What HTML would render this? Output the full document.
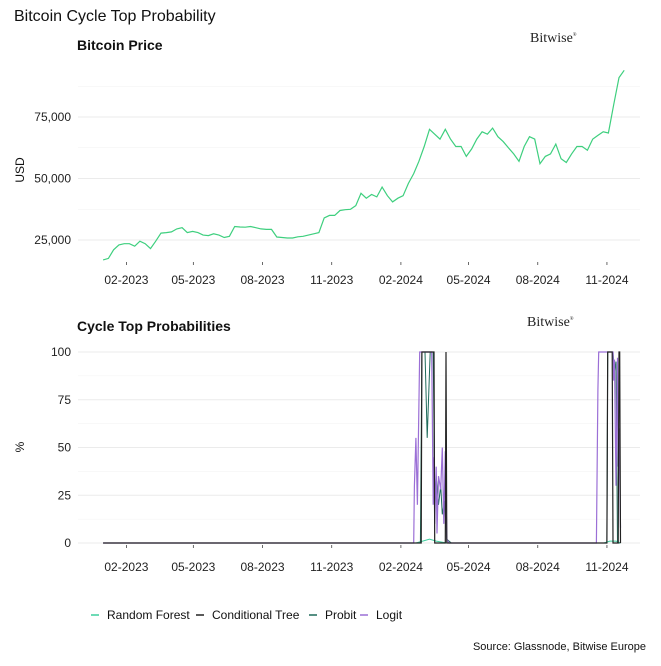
<!DOCTYPE html>
<html><head><meta charset="utf-8">
<style>
body{margin:0;background:#fff;}
svg text{font-family:"Liberation Sans",Arial,sans-serif;}
</style></head>
<body>
<svg id="chart" width="661" height="661" viewBox="0 0 661 661" xmlns="http://www.w3.org/2000/svg">
<rect width="661" height="661" fill="#fff"/>
<text x="14" y="21" font-size="16" fill="#111">Bitcoin Cycle Top Probability</text>
<text x="77" y="50" font-size="14" font-weight="bold" fill="#111">Bitcoin Price</text>
<text x="530" y="42" font-size="14" style="font-family:'Liberation Serif',serif" fill="#222">Bitwise<tspan font-size="5" dy="-6">®</tspan></text>
<text x="77" y="331" font-size="14" font-weight="bold" fill="#111">Cycle Top Probabilities</text>
<text x="527" y="326" font-size="14" style="font-family:'Liberation Serif',serif" fill="#222">Bitwise<tspan font-size="5" dy="-6">®</tspan></text>
<text transform="translate(24,170) rotate(-90)" text-anchor="middle" font-size="12" fill="#111">USD</text>
<text transform="translate(24,447) rotate(-90)" text-anchor="middle" font-size="12" fill="#111">%</text>
<g id="grid"></g>
<g id="marks"></g>
<g id="legend"></g>
<text x="646" y="650" text-anchor="end" font-size="11" fill="#111">Source: Glassnode, Bitwise Europe</text>
</svg>
<script>
// Weekly BTC price (USD) starting 2023-01-01
const priceValues=[16900,17500,21000,23000,23500,23500,22500,24500,23500,21500,24500,27800,28000,28300,29500,30000,28000,28500,28000,27000,26800,27500,27000,26000,26500,30500,30300,30200,30500,30000,29500,29300,29300,26200,26000,25800,25800,26300,26500,27000,27500,28000,34000,35000,35000,37000,37300,37500,39000,44000,42000,43500,42500,46500,43000,40500,42000,43000,48000,52000,57000,63000,70000,68000,66000,70000,66000,63000,63000,59000,62000,66000,69000,68000,70500,67000,65000,62500,60000,57000,63000,67000,66000,56000,59000,60000,64000,58000,56500,60000,63000,63000,61500,66000,67500,69000,68500,80000,91000,94000];
const priceStartDay=0;
const priceStepDays=7;
// Probability breakpoints (day offset from 2023-01-01, percent)
const treeDays=[0,423,424,440,441,455,456,457,670,671,677,678,685,686,687,688];
const treeVals=[0,0,100,100,0,0,100,0,0,100,100,0,0,100,100,0];
const logitDays=[0,413,414,416,418,421,437,439,440,441,443,444,446,449,451,453,455,457,460,656,658,659,678,679,680,682,684,685,686,688];
const logitVals=[0,0,30,55,20,100,100,20,45,10,40,5,35,28,50,10,48,2,0,0,80,100,100,85,96,30,97,40,60,8];
const probitDays=[0,422,424,428,431,435,439,441,443,446,449,451,454,457,463,670,671,678,680,682,684,688];
const probitVals=[0,0,100,100,55,100,100,25,35,20,30,15,22,2,0,0,100,100,90,95,0,0];
const rfDays=[0,416,425,434,443,457,666,674,682,688];
const rfVals=[0,0,1,2,1,0,0,1,1,0];
const xTickLabels=["02-2023","05-2023","08-2023","11-2023","02-2024","05-2024","08-2024","11-2024"];
const xTickDays=[31,120,212,304,396,486,578,670];
const priceTicks=[25000,50000,75000];
const priceTickLabels=["25,000","50,000","75,000"];
const probTicks=[0,25,50,75,100];
const legendLabels=["Random Forest","Conditional Tree","Probit","Logit"];

const NS="http://www.w3.org/2000/svg";
const xs=d=>103.1+d*0.752;
const yPrice=v=>240-(v-25000)*61.5/25000;
const yProb=v=>543-v*1.91;
const L=78,R=640;
function mk(tag,attrs,parent){const e=document.createElementNS(NS,tag);for(const k in attrs)e.setAttribute(k,attrs[k]);parent.appendChild(e);return e;}
const grid=document.getElementById('grid'),marks=document.getElementById('marks'),legend=document.getElementById('legend');

[12500,37500,62500,87500].forEach(v=>{const y=yPrice(v);if(y>60&&y<268){const g=mk('line',{x1:L,x2:R,y1:y,y2:y,stroke:'#f2f2f2','stroke-width':0.6},grid);}});
priceTicks.forEach((v,i)=>{const y=yPrice(v);const g=mk('line',{x1:L,x2:R,y1:y,y2:y,stroke:'#ebebeb','stroke-width':1},grid);
const t=mk('text',{x:71,y:y+4,'text-anchor':'end','font-size':12,fill:'#222'},grid);t.textContent=priceTickLabels[i];});
[12.5,37.5,62.5,87.5].forEach(v=>{const y=yProb(v);const g=mk('line',{x1:L,x2:R,y1:y,y2:y,stroke:'#f2f2f2','stroke-width':0.6},grid);});
probTicks.forEach(v=>{const y=yProb(v);const g=mk('line',{x1:L,x2:R,y1:y,y2:y,stroke:'#ebebeb','stroke-width':1},grid);
const t=mk('text',{x:71,y:y+4,'text-anchor':'end','font-size':12,fill:'#222'},grid);t.textContent=String(v);});
xTickDays.forEach((d,i)=>{const x=xs(d);[[262,284],[545,571]].forEach(([ty,ly])=>{
const tk=mk('line',{x1:x,x2:x,y1:ty,y2:ty+3,stroke:'#444','stroke-width':0.8},grid);
const t=mk('text',{x:x,y:ly,'text-anchor':'middle','font-size':12,fill:'#222'},grid);t.textContent=xTickLabels[i];});});

const pp=priceValues.map((v,i)=>xs(priceStartDay+i*priceStepDays).toFixed(1)+','+yPrice(v).toFixed(1)).join(' ');
const pl=mk('polyline',{points:pp,fill:'none',stroke:'#3ecf7e','stroke-width':1.2},marks);



function series(days,vals,color,w,name){
const pts=days.map((d,i)=>xs(d).toFixed(1)+','+yProb(vals[i]).toFixed(1)).join(' ');
const p=mk('polyline',{points:pts,fill:'none',stroke:color,'stroke-width':w},marks);

}
series(rfDays,rfVals,'#3ecf9e',1,'random-forest-line');
series(probitDays,probitVals,'#1f6b5a',1,'probit-line');
series(logitDays,logitVals,'#9b6fd6',1.2,'logit-line');
series(treeDays,treeVals,'#222',1.2,'conditional-tree-line');

const legColors=['#3ecf9e','#222','#1f6b5a','#9b6fd6'];
const legX=[91,196,309,360];
legendLabels.forEach((lab,i)=>{
const g=mk('g',{},legend);


mk('line',{x1:legX[i],x2:legX[i]+8,y1:615,y2:615,stroke:legColors[i],'stroke-width':1.5},g);
const t=mk('text',{x:legX[i]+16,y:619,'font-size':12,fill:'#111'},g);t.textContent=lab;});
</script>
</body></html>
